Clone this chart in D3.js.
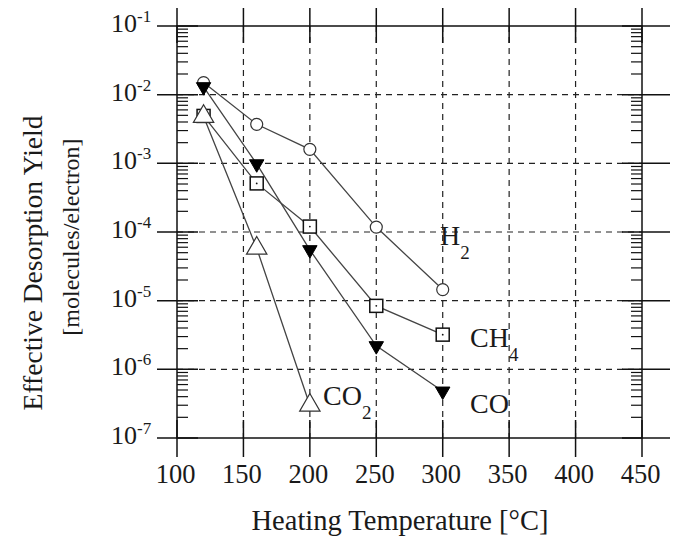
<!DOCTYPE html>
<html>
<head>
<meta charset="utf-8">
<script src="https://cdn.jsdelivr.net/npm/d3@7"></script>
<style>
  body { margin: 0; background: #fff; }
  svg { display: block; }
  text { font-family: "Liberation Serif", "Times New Roman", serif; fill: #1a1a1a; }
</style>
</head>
<body>
<div id="chart"></div>
<script>
"use strict"

// values
const temps = [120, 160, 200, 250, 300];
const h2Yield = [1.5e-2, 3.7e-3, 1.6e-3, 1.18e-4, 1.45e-5];
const ch4Yield = [4.9e-3, 5.1e-4, 1.2e-4, 8.4e-6, 3.2e-6];
const coYield = [1.3e-2, 9.8e-4, 5.5e-5, 2.2e-6, 4.8e-7];
const co2Temps = [120, 160, 200];
const co2Yield = [4.8e-3, 5.8e-5, 3.0e-7];

const xTicks = [100, 150, 200, 250, 300, 350, 400, 450];
const yExps = [-1, -2, -3, -4, -5, -6, -7];

let width = 673, height = 537;
let plot = {left: 177, right: 642, top: 26, bottom: 438};

let svg = d3.select("#chart")
            .append("svg")
            .attr("width", width)
            .attr("height", height);

let x = d3.scaleLinear().domain([100, 450]).range([plot.left, plot.right]);
let y = d3.scaleLog().domain([1e-7, 1e-1]).range([plot.bottom, plot.top]);

// dashed grid
svg.append("g")
  .selectAll("line")
  .data(xTicks.slice(1, -1))
  .enter().append("line")
  .attr("x1", d => x(d)).attr("x2", d => x(d))
  .attr("y1", plot.top).attr("y2", plot.bottom)
  .style("stroke", "#222")
  .style("stroke-width", 1.2)
  .style("stroke-dasharray", "6,5");

svg.append("g")
  .selectAll("line")
  .data(yExps.slice(1, -1))
  .enter().append("line")
  .attr("x1", plot.left).attr("x2", plot.right)
  .attr("y1", d => y(Math.pow(10, d))).attr("y2", d => y(Math.pow(10, d)))
  .style("stroke", "#222")
  .style("stroke-width", 1.2)
  .style("stroke-dasharray", "6,5");

// frame
svg.append("rect")
  .attr("x", plot.left).attr("y", plot.top)
  .attr("width", plot.right - plot.left).attr("height", plot.bottom - plot.top)
  .style("fill", "none")
  .style("stroke", "#111")
  .style("stroke-width", 1.5);

// x ticks top and bottom
let xt = svg.append("g").selectAll("g").data(xTicks).enter();
xt.append("line")
  .attr("x1", d => x(d)).attr("x2", d => x(d))
  .attr("y1", plot.top - 18).attr("y2", plot.top + 17)
  .style("stroke", "#111").style("stroke-width", 1.5);
xt.append("line")
  .attr("x1", d => x(d)).attr("x2", d => x(d))
  .attr("y1", plot.bottom - 18).attr("y2", plot.bottom + 19)
  .style("stroke", "#111").style("stroke-width", 1.5);

svg.append("g")
  .attr("transform", "translate(0," + plot.bottom + ")")
  .call(d3.axisBottom(x).tickValues(xTicks).tickSize(0).tickPadding(0))
  .call(g => g.select(".domain").remove())
  .selectAll("text")
  .attr("x", -2)
  .attr("y", 45)
  .attr("dy", null)
  .style("font-family", '"Liberation Serif", serif')
  .style("font-size", "26.5px")
  .style("fill", "#1a1a1a");

// y major ticks
let yt = svg.append("g").selectAll("g").data(yExps).enter();
yt.append("line")
  .attr("x1", plot.left - 20).attr("x2", plot.left + 21)
  .attr("y1", d => y(Math.pow(10, d))).attr("y2", d => y(Math.pow(10, d)))
  .style("stroke", "#111").style("stroke-width", 1.5);
yt.append("line")
  .attr("x1", plot.right - 20).attr("x2", plot.right + 28)
  .attr("y1", d => y(Math.pow(10, d))).attr("y2", d => y(Math.pow(10, d)))
  .style("stroke", "#111").style("stroke-width", 1.5);

// y minor ticks
let minors = [];
yExps.slice(1).forEach(e => {
  for (let k = 2; k <= 9; k++) minors.push(k * Math.pow(10, e));
});
let mt = svg.append("g").selectAll("g").data(minors).enter();
mt.append("line")
  .attr("x1", plot.left).attr("x2", plot.left + 11)
  .attr("y1", d => y(d)).attr("y2", d => y(d))
  .style("stroke", "#111").style("stroke-width", 1.2);
mt.append("line")
  .attr("x1", plot.right - 11).attr("x2", plot.right)
  .attr("y1", d => y(d)).attr("y2", d => y(d))
  .style("stroke", "#111").style("stroke-width", 1.2);

// y labels 10^n
let ylab = svg.append("g").selectAll("text").data(yExps).enter()
  .append("text")
  .attr("x", 111)
  .attr("y", d => y(Math.pow(10, d)) + 6)
  .style("font-size", "26px");
ylab.append("tspan").text("10");
ylab.append("tspan")
  .attr("dy", -10)
  .style("font-size", "17px")
  .text(d => "-" + Math.abs(d));

// axis titles
svg.append("text")
  .attr("x", 400).attr("y", 530)
  .attr("text-anchor", "middle")
  .style("font-size", "28.5px")
  .text("Heating Temperature [°C]");

svg.append("text")
  .attr("transform", "translate(42,263) rotate(-90)")
  .attr("text-anchor", "middle")
  .style("font-size", "27.5px")
  .text("Effective Desorption Yield");
svg.append("text")
  .attr("transform", "translate(79,237) rotate(-90)")
  .attr("text-anchor", "middle")
  .style("font-size", "24px")
  .text("[molecules/electron]");

// series
let series = [
  {name: "H2", t: temps, v: h2Yield, shape: "circle"},
  {name: "CH4", t: temps, v: ch4Yield, shape: "square"},
  {name: "CO", t: temps, v: coYield, shape: "down"},
  {name: "CO2", t: co2Temps, v: co2Yield, shape: "up"}
];

let line = d3.line().x(d => x(d[0])).y(d => y(d[1]));

series.forEach(s => {
  let pts = s.t.map((t, i) => [t, s.v[i]]);
  svg.append("path")
    .datum(pts)
    .attr("d", line)
    .style("fill", "none")
    .style("stroke", "#444")
    .style("stroke-width", 1.3);
});

series.forEach(s => {
  let pts = s.t.map((t, i) => [t, s.v[i]]);
  let g = svg.append("g").selectAll("g").data(pts).enter()
    .append("g")
    .attr("transform", d => "translate(" + x(d[0]) + "," + y(d[1]) + ")");
  if (s.shape == "circle") {
    g.append("circle").attr("r", 6)
      .style("fill", "#fff").style("stroke", "#333").style("stroke-width", 1.2);
  } else if (s.shape == "square") {
    g.append("rect").attr("x", -6.5).attr("y", -6.5).attr("width", 13).attr("height", 13)
      .style("fill", "#fff").style("stroke", "#111").style("stroke-width", 1.5);
    g.append("circle").attr("r", 0.9).style("fill", "#111");
  } else if (s.shape == "down") {
    g.append("path")
      .attr("d", d3.symbol(d3.symbolTriangle, 90))
      .attr("transform", "rotate(180)")
      .style("fill", "#000").style("stroke", "#000");
  } else {
    g.append("path")
      .attr("d", d3.symbol(d3.symbolTriangle, 180))
      .style("fill", "#fff").style("stroke", "#333").style("stroke-width", 1.2);
  }
});

// series labels with subscripts
let labels = [
  {main: "H", sub: "2", x: 440, y: 245},
  {main: "CH", sub: "4", x: 470, y: 347},
  {main: "CO", sub: "", x: 470, y: 413},
  {main: "CO", sub: "2", x: 323, y: 405}
];
labels.forEach(l => {
  let t = svg.append("text")
    .attr("x", l.x).attr("y", l.y)
    .style("font-size", "28px");
  t.append("tspan").text(l.main);
  if (l.sub) {
    t.append("tspan").attr("dy", 14).style("font-size", "19px").text(l.sub);
  }
});
</script>
</body>
</html>
